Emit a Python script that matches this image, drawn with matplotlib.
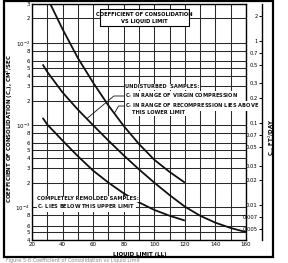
import matplotlib
matplotlib.use("Agg")
import matplotlib.pyplot as plt
from matplotlib.ticker import FixedLocator, NullLocator, FixedFormatter
from matplotlib.patches import Rectangle

plt.rcParams['font.family'] = ['Liberation Sans Narrow', 'DejaVu Sans']

# ---------------- data ----------------
upper_ll = [32, 40, 50, 60, 70, 80, 90, 100, 110, 120]
upper_cv = [3.0e-2, 1.48e-2, 6.6e-3, 3.3e-3, 1.74e-3, 9.8e-4, 5.9e-4, 3.8e-4, 2.7e-4, 2.0e-4]

middle_ll = [27, 30, 40, 50, 60, 70, 80, 90, 100, 110, 120, 130, 140, 150, 160]
middle_cv = [5.5e-3, 4.47e-3, 2.51e-3, 1.55e-3, 1.0e-3, 6.5e-4, 4.3e-4, 2.9e-4,
             2.0e-4, 1.41e-4, 1.02e-4, 7.9e-5, 6.5e-5, 5.6e-5, 5.0e-5]

lower_ll = [27, 30, 40, 50, 60, 70, 80, 90, 100, 110, 120]
lower_cv = [1.23e-3, 1.02e-3, 6.5e-4, 4.2e-4, 2.8e-4, 2.0e-4, 1.48e-4, 1.15e-4,
            9.3e-5, 7.9e-5, 6.9e-5]

x_ticks = [20, 40, 60, 80, 100, 120, 140, 160]
left_tick_values = [3e-2, 2e-2, 1e-2, 8e-3, 6e-3, 5e-3, 4e-3, 3e-3, 2e-3, 1e-3,
                    8e-4, 6e-4, 5e-4, 4e-4, 3e-4, 2e-4, 1e-4, 8e-5, 6e-5, 5e-5, 4e-5]
left_tick_labels = ['3', '2', r'$10^{-2}$', '8', '6', '5', '4', '3', '2', r'$10^{-3}$',
                    '8', '6', '5', '4', '3', '2', r'$10^{-4}$', '8', '6', '5', '4']
right_tick_values = [2, 1, 0.7, 0.5, 0.3, 0.2, 0.1, 0.07, 0.05, 0.03, 0.02, 0.01, 0.007, 0.005]
right_tick_labels = ['2', '1', '0.7', '0.5', '0.3', '0.2', '0.1', '0.07', '0.05', '0.03',
                     '0.02', '0.01', '0.007', '0.005']
CM2S_TO_FT2DAY = 86400 / 929.03
y_min, y_max = 4e-5, 3e-2

W, H = 288, 263
def fx(px):
    return px / W
def fy(py):
    return 1 - py / H

fig = plt.figure(figsize=(W / 100, H / 100), dpi=100)
ax_l, ax_r, ax_t, ax_b = 32, 246, 4, 240
ax = fig.add_axes([fx(ax_l), fy(ax_b), (ax_r - ax_l) / W, (ax_b - ax_t) / H])

gc = '#2a2a2a'
ax.set_xlim(20, 160)
ax.set_yscale('log')
ax.set_ylim(y_min, y_max)
ax.xaxis.set_major_locator(FixedLocator(x_ticks))
ax.xaxis.set_minor_locator(FixedLocator(list(range(30, 160, 20))))
ax.yaxis.set_major_locator(FixedLocator(left_tick_values))
ax.yaxis.set_major_formatter(FixedFormatter(left_tick_labels))
ax.yaxis.set_minor_locator(NullLocator())
ax.grid(True, which='both', color=gc, lw=0.75)
ax.set_axisbelow(True)
ax.tick_params(axis='both', which='both', length=0, labelsize=4, pad=1.5)
for s in ax.spines.values():
    s.set_color('black')
    s.set_linewidth(1.0)

lc = '#111111'
ax.plot(upper_ll, upper_cv, color=lc, lw=1.3, solid_capstyle='butt')
ax.plot(middle_ll, middle_cv, color=lc, lw=1.3, solid_capstyle='butt')
ax.plot(lower_ll, lower_cv, color=lc, lw=1.3, solid_capstyle='butt')

ax.set_xlabel('LIQUID LIMIT (LL)', fontsize=4, fontweight='bold')
ax.xaxis.set_label_coords((140 - ax_l) / (ax_r - ax_l), (ax_b - 252) / (ax_b - ax_t))
ax.set_ylabel('COEFFICIENT OF CONSOLIDATION (C$_v$), CM$^2$/SEC', fontsize=4, fontweight='bold')
ax.yaxis.set_label_coords((15 - ax_l) / (ax_r - ax_l), 0.47)

# right-hand scale (ft^2/day)
ax2 = fig.add_axes([fx(ax_l), fy(ax_b), (262 - ax_l) / W, (ax_b - ax_t) / H])
ax2.patch.set_visible(False)
ax2.set_yscale('log')
ax2.set_ylim(y_min * CM2S_TO_FT2DAY, y_max * CM2S_TO_FT2DAY)
ax2.set_xticks([])
for k in ['left', 'top', 'bottom']:
    ax2.spines[k].set_visible(False)
ax2.spines['right'].set_linewidth(1.0)
ax2.yaxis.tick_right()
ax2.yaxis.set_major_locator(FixedLocator(right_tick_values))
ax2.yaxis.set_major_formatter(FixedFormatter(right_tick_labels))
ax2.yaxis.set_minor_locator(NullLocator())
ax2.tick_params(axis='y', which='both', direction='in', length=2.2, width=0.7,
                labelsize=3.8, pad=-3.2)
for t in ax2.get_yticklabels():
    t.set_horizontalalignment('right')
ax2.yaxis.set_label_position('right')
ax2.set_ylabel('C$_v$, FT$^2$/DAY', fontsize=4, fontweight='bold', rotation=90)
ax2.yaxis.set_label_coords((267 - ax_l) / (262 - ax_l), 1 - (137 - ax_t) / (ax_b - ax_t))

# annotations
tkw = dict(fontsize=3.7, fontweight='bold', ha='left', va='center', color='#111111')
bb = dict(facecolor='white', edgecolor='none', pad=0.3)
fig.text(fx(125), fy(87), 'UNDISTURBED  SAMPLES:', bbox=bb, **tkw)
fig.text(fx(125), fy(96), 'C$_v$ IN RANGE OF VIRGIN COMPRESSION', bbox=bb, **tkw)
fig.text(fx(125), fy(106), 'C$_v$ IN RANGE OF RECOMPRESSION LIES ABOVE', bbox=bb, **tkw)
fig.text(fx(132), fy(113), 'THIS LOWER LIMIT', bbox=bb, **tkw)
fig.text(fx(37), fy(199), 'COMPLETELY REMOLDED SAMPLES:', bbox=bb, **tkw)
fig.text(fx(37), fy(207), 'C$_v$ LIES BELOW THIS UPPER LIMIT', bbox=bb, **tkw)

akw = dict(arrowstyle='-', lw=0.6, color='#111111', shrinkA=0, shrinkB=0)
ax.annotate('', xy=(middle_ll[4] - 4.2, 1.2e-3), xycoords='data',
            xytext=(fx(124), fy(96)), textcoords='figure fraction',
            arrowprops=dict(connectionstyle='angle,angleA=0,angleB=40,rad=0', **akw))
ax.annotate('', xy=(74, 1.41e-3), xycoords='data',
            xytext=(fx(124), fy(106)), textcoords='figure fraction',
            arrowprops=dict(connectionstyle='angle,angleA=0,angleB=60,rad=0', **akw))
ax.annotate('', xy=(lower_ll[5] + 9.7, 1.47e-4), xycoords='data',
            xytext=(fx(119), fy(207)), textcoords='figure fraction',
            arrowprops=dict(connectionstyle='angle,angleA=0,angleB=90,rad=0', **akw))

# title box
fig.add_artist(Rectangle((fx(100), fy(26)), (189 - 100) / W, (26 - 9) / H,
                         transform=fig.transFigure, facecolor='white',
                         edgecolor='black', lw=0.8, zorder=4))
fig.text(fx(144.5), fy(14), 'COEFFICIENT OF CONSOLIDATION', fontsize=3.7,
         fontweight='bold', ha='center', va='center', zorder=5)
fig.text(fx(144.5), fy(21), 'VS LIQUID LIMIT', fontsize=3.7,
         fontweight='bold', ha='center', va='center', zorder=5)

# outer frame
fig.add_artist(Rectangle((fx(4), fy(257)), (273 - 4) / W, (257 - 1) / H,
                         transform=fig.transFigure, facecolor='none',
                         edgecolor='black', lw=1.6, zorder=6))

fig.text(fx(6), fy(262.8), 'Figure 5-6 Coefficient of Consolidation vs Liquid Limit',
         fontsize=3.6, color='#888888', ha='left', va='bottom')

fig.savefig('out.png', dpi=100)
